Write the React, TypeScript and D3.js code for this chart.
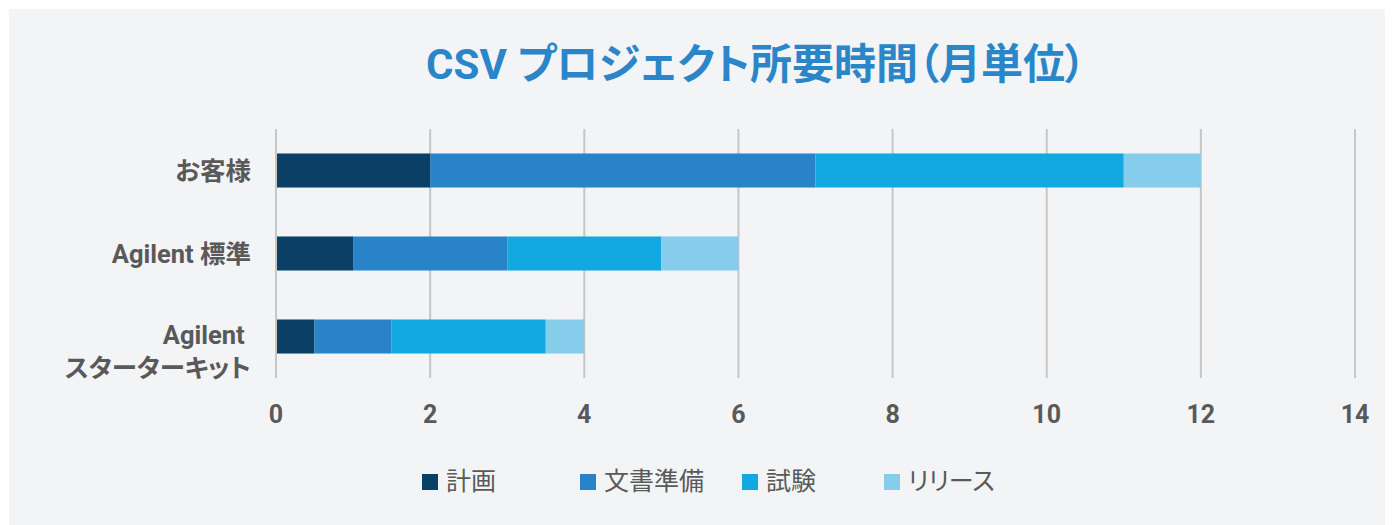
import React from "react";
import * as d3 from "d3";

const categories = ["お客様", "Agilent 標準", "Agilent スターターキット"];
const categoryLines = [["お客様"], ["Agilent 標準"], ["Agilent ", "スターターキット"]];
const seriesNames = ["計画", "文書準備", "試験", "リリース"];
const planning = [2, 1, 0.5];
const documentation = [5, 2, 1];
const testing = [4, 2, 2];
const release = [1, 1, 0.5];
const xTicks = [0, 2, 4, 6, 8, 10, 12, 14];
const title = "CSV プロジェクト所要時間（月単位）";

const colors = ["#0a3f66", "#2983c8", "#12a8e0", "#86cdec"];
const FONT = "Roboto, 'Noto Sans CJK JP', sans-serif";
const GRAY = "#595959";
const PALT = { fontFeatureSettings: "'palt'" } as React.CSSProperties;

export default function App() {
  const W = 1393;
  const H = 525;
  const x = d3.scaleLinear().domain([0, 14]).range([276, 1355]);
  const y = d3.scaleBand<string>().domain(categories).range([129, 378]).paddingInner(0.59).paddingOuter(0.295);

  const rows = categories.map((c, i) => ({
    cat: c,
    計画: planning[i],
    文書準備: documentation[i],
    試験: testing[i],
    リリース: release[i],
  }));
  const stacked = d3.stack<any>().keys(seriesNames)(rows);

  const legendX = [422, 580, 742, 884];

  return (
    <svg width={W - 8} height={H - 8} style={{ display: "block" }}>
      <g transform="translate(-8,-8)">
        <rect x={9} y={9} width={W} height={H} fill="#f3f4f6" />
        <text x={756} y={79} textAnchor="middle" fontFamily={FONT} fontWeight="bold" fontSize={42} fill="#2a86c8" style={PALT}>
          {title}
        </text>
        {xTicks.map((t) => (
          <g key={t}>
            <line x1={x(t)} x2={x(t)} y1={129} y2={378} stroke="#c6c6c6" strokeWidth={2} />
            <text x={x(t)} y={423} textAnchor="middle" fontFamily={FONT} fontWeight="bold" fontSize={25} fill={GRAY}>
              {t}
            </text>
          </g>
        ))}
        {stacked.map((s, si) => (
          <g key={s.key} fill={colors[si]}>
            {s.map((d, i) => (
              <rect
                key={i}
                x={x(d[0]) + (d[0] === 0 ? 1 : 0)}
                width={x(d[1]) - x(d[0]) - (d[0] === 0 ? 1 : 0)}
                y={y(categories[i])!}
                height={y.bandwidth()}
              />
            ))}
          </g>
        ))}
        {categories.map((c, i) => {
          const cy = y(c)! + y.bandwidth() / 2;
          const lines = categoryLines[i];
          return (
            <text key={c} textAnchor="end" fontFamily={FONT} fontWeight="bold" fontSize={25.5} fill={GRAY} style={{ whiteSpace: "pre", ...PALT }}>
              {lines.length === 1 ? (
                <tspan x={251} y={cy + 9.5}>{lines[0]}</tspan>
              ) : (
                lines.map((l, li) => (
                  <tspan key={li} x={251} y={cy + 7 + li * 33}>{l}</tspan>
                ))
              )}
            </text>
          );
        })}
        {seriesNames.map((n, i) => (
          <g key={n}>
            <rect x={legendX[i]} y={474} width={16} height={16} fill={colors[i]} />
            <text x={legendX[i] + 24} y={490} fontFamily={FONT} fontSize={25} fill={GRAY} style={PALT}>
              {n}
            </text>
          </g>
        ))}
      </g>
    </svg>
  );
}
